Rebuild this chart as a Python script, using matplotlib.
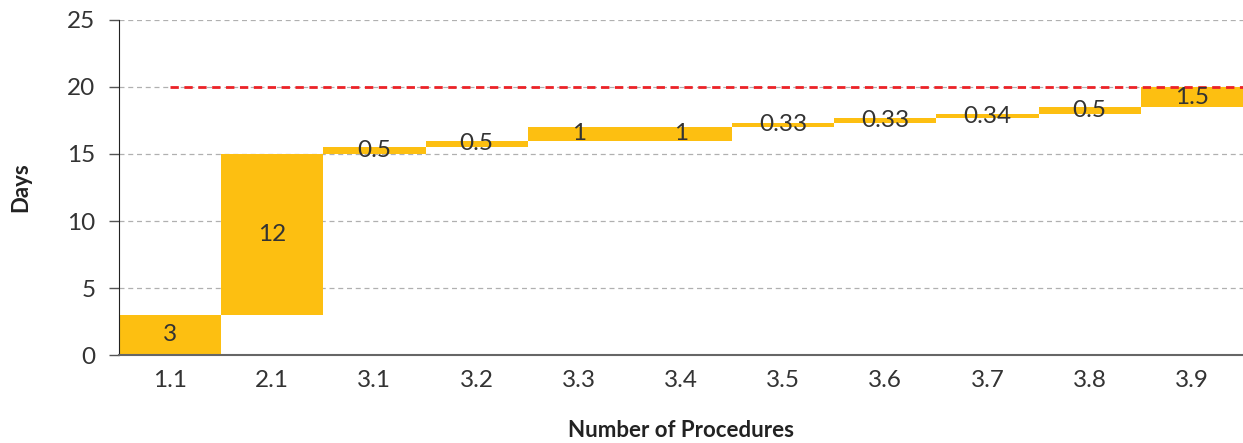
import matplotlib

matplotlib.use("Agg")
import matplotlib.pyplot as plt

# Waterfall steps: procedure id, duration (days), start day of each step
procedures = ["1.1", "2.1", "3.1", "3.2", "3.3", "3.4", "3.5", "3.6", "3.7", "3.8", "3.9"]
days = [3, 12, 0.5, 0.5, 1, 1, 0.33, 0.33, 0.34, 0.5, 1.5]
starts = [0, 3, 15, 15.5, 16, 16, 17, 17.33, 17.66, 18, 18.5]
labels = ["3", "12", "0.5", "0.5", "1", "1", "0.33", "0.33", "0.34", "0.5", "1.5"]
total_days = 20
y_ticks = [0, 5, 10, 15, 20, 25]

plt.rcParams["font.family"] = ["Lato", "DejaVu Sans"]

fig = plt.figure(figsize=(12.43, 4.43), dpi=100)
ax = fig.add_axes([0.0957, 0.1986, 0.9043, 0.7563])

x = list(range(len(procedures)))
ax.bar(x, days, bottom=starts, width=1.0, color="#fdbf11", zorder=2)

for xi, d, s, lab in zip(x, days, starts, labels):
    ax.text(xi, s + d / 2, lab, ha="center", va="center", fontsize=17.5,
            color="#333333", zorder=4)

# target line
ax.plot([0, len(procedures) - 0.5], [total_days, total_days], color="#ec2227",
        linestyle=(0, (3, 2)), linewidth=2, zorder=3)

ax.set_xlim(-0.5, len(procedures) - 0.5)
ax.set_ylim(0, 25)
ax.set_yticks(y_ticks)
ax.set_xticks(x)
ax.set_xticklabels(procedures)
ax.grid(axis="y", linestyle=(0, (4, 3)), color="#b0b0b0", linewidth=0.9, zorder=0)
ax.set_axisbelow(True)

ax.tick_params(axis="y", length=7, width=1, color="#555555", labelsize=17.5,
               labelcolor="#333333", pad=10)
ax.tick_params(axis="x", length=0, labelsize=17.5, labelcolor="#333333", pad=11)

for side in ["top", "right"]:
    ax.spines[side].set_visible(False)
ax.spines["left"].set_color("#222222")
ax.spines["bottom"].set_color("#666666")
ax.spines["bottom"].set_linewidth(1.5)

ax.set_xlabel("Number of Procedures", fontsize=16, fontweight="bold",
              color="#222222", labelpad=21)
ax.set_ylabel("Days", fontsize=16, fontweight="bold", color="#222222",
              labelpad=26)

fig.savefig("out.png", dpi=100, facecolor="white")
